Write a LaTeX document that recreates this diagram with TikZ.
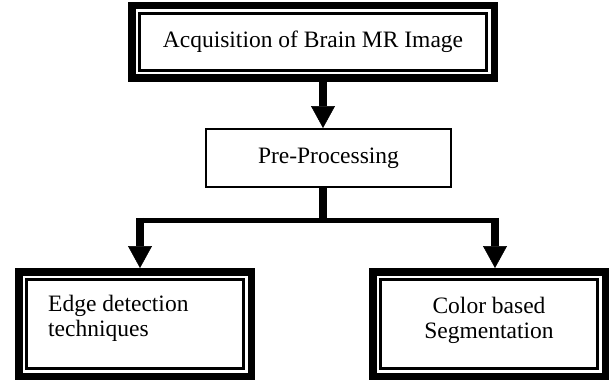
\documentclass[tikz,border=0pt]{standalone}
\usepackage{fontspec}
\setmainfont{Liberation Serif}
\usetikzlibrary{arrows.meta}
\begin{document}
\begin{tikzpicture}[x=1pt,y=1pt,
  txt/.style={font=\fontsize{23.5}{25}\selectfont},
  frame/.style={rectangle, draw, line width=7.5pt, inner sep=0pt, txt,
    path picture={\draw[line width=2.4pt]
      ([shift={(7.65pt,7.65pt)}]path picture bounding box.south west) rectangle
      ([shift={(-7.65pt,-7.65pt)}]path picture bounding box.north east);}},
  plainbox/.style={rectangle, draw, line width=1.8pt, inner sep=0pt, txt},
  label/.style={txt, inner sep=0pt},
  flow/.style={line width=8pt, -{Triangle[width=24pt,length=22pt,line width=0.5pt]}},
  bar/.style={line width=8pt},
  bus/.style={line width=5.5pt}]
\useasboundingbox (0,0) rectangle (610,381);

% boxes
\node[frame, minimum width=362.5pt, minimum height=72.5pt] (acq) at (313,339) {Acquisition of Brain MR Image};
\node[plainbox, minimum width=245.2pt, minimum height=58.2pt] (pre) at (328.5,223) {Pre-Processing};
\node[frame, minimum width=232.5pt, minimum height=104.5pt] (edge) at (135,57) {};
\node[frame, minimum width=232.5pt, minimum height=104.5pt] (color) at (489,57) {};

% box texts
\node[label, anchor=base west] (edgeA) at (48,69.3) {Edge detection};
\node[label, anchor=base west] (edgeB) at (48,44.3) {techniques};
\node[label, anchor=base] (colorA) at (489,67.7) {Color based};
\node[label, anchor=base] (colorB) at (489,42.7) {Segmentation};

% junctions on the distribution bar
\coordinate (split) at (323,160.5);
\coordinate (lj) at (140,160.5);
\coordinate (rj) at (495,160.5);

% connectors
\draw[flow] (acq.south -| split) -- (pre.north -| split);
\draw[bar] (pre.south -| split) -- ([yshift=-2.75pt]split);
\draw[bus] ([xshift=-4pt]lj) -- ([xshift=4pt]rj);
\draw[flow] ([yshift=2.75pt]lj) -- (lj |- edge.north);
\draw[flow] ([yshift=2.75pt]rj) -- (rj |- color.north);
\end{tikzpicture}
\end{document}
